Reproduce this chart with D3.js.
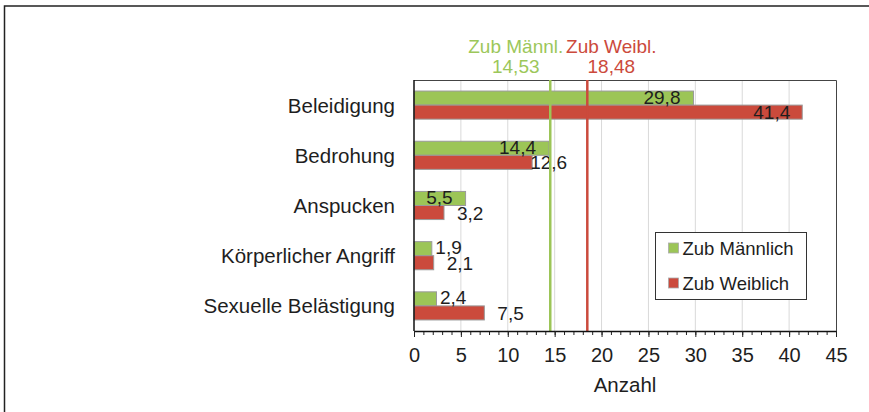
<!DOCTYPE html>
<html>
<head>
<meta charset="utf-8">
<script src="https://cdn.jsdelivr.net/npm/d3@7"></script>
<style>
  html, body { margin: 0; padding: 0; background: #fff; }
  svg { display: block; font-family: "Liberation Sans", Arial, sans-serif; }
</style>
</head>
<body>
<svg id="chart" width="869" height="412"></svg>
<script>
const categories = ["Beleidigung", "Bedrohung", "Anspucken", "Körperlicher Angriff", "Sexuelle Belästigung"];
const seriesNames = ["Zub Männlich", "Zub Weiblich"];
const maleValues = [29.8, 14.4, 5.5, 1.9, 2.4];
const femaleValues = [41.4, 12.6, 3.2, 2.1, 7.5];
const refLabels = ["Zub Männl.", "Zub Weibl."];
const refValues = [14.53, 18.48];
const xTicks = [0, 5, 10, 15, 20, 25, 30, 35, 40, 45];
const xMinorTicks = d3.range(0, 46, 1);
const axisTitle = "Anzahl";

const colors = { male: "#9cc557", female: "#cb4a3c", maleText: "#9cc75a", femaleText: "#cc4a3c", text: "#1e1e1e" };

const svg = d3.select("#chart");
const plot = { left: 414, right: 836, top: 80, bottom: 331 };

const locale = d3.formatLocale({ decimal: ",", thousands: ".", grouping: [3], currency: ["", "€"] });
const fmt1 = v => locale.format(".1f")(v);
const fmt2 = v => locale.format(".2f")(v);

const x = d3.scaleLinear().domain([0, 45]).range([plot.left, plot.right]);
const y = d3.scaleBand().domain(categories).range([plot.top, plot.bottom]).padding(0);
const bh = y.bandwidth() * 0.28;

// outer frame
svg.append("path").attr("d", `M4.5,412 V6 H869`).attr("fill", "none").attr("stroke", "#222").attr("stroke-width", 1.5);

// gridlines
svg.append("g").selectAll("line").data(xTicks.filter(t => t > 0 && t < 45)).join("line")
  .attr("x1", d => x(d)).attr("x2", d => x(d))
  .attr("y1", plot.top).attr("y2", plot.bottom)
  .attr("stroke", "#d9d9d9").attr("stroke-width", 1);

// plot border top/right
svg.append("path").attr("d", `M${plot.left},${plot.top + 0.5} H${plot.right + 0.5} V${plot.bottom}`)
  .attr("fill", "none").attr("stroke", "#444").attr("stroke-width", 1);

// bars
const rows = categories.map((c, i) => ({ c, m: maleValues[i], f: femaleValues[i] }));
const g = svg.append("g");
g.selectAll("rect.m").data(rows).join("rect").attr("class", "m")
  .attr("x", x(0)).attr("y", d => y(d.c) + y.bandwidth() / 2 - bh)
  .attr("width", d => x(d.m) - x(0)).attr("height", bh)
  .attr("fill", colors.male).attr("stroke", "#9a9a9a").attr("stroke-width", 1);
g.selectAll("rect.f").data(rows).join("rect").attr("class", "f")
  .attr("x", x(0)).attr("y", d => y(d.c) + y.bandwidth() / 2)
  .attr("width", d => x(d.f) - x(0)).attr("height", bh)
  .attr("fill", colors.female).attr("stroke", "#9a9a9a").attr("stroke-width", 1);

// data labels
g.selectAll("text.ml").data(rows).join("text").attr("class", "ml")
  .attr("x", d => d.m >= 5 ? x(d.m) - 13 : x(d.m) + 3.5)
  .attr("y", d => y(d.c) + y.bandwidth() / 2 - 1.5)
  .attr("text-anchor", d => d.m >= 5 ? "end" : "start")
  .attr("font-size", 19).attr("fill", colors.text)
  .text(d => fmt1(d.m));
g.selectAll("text.fl").data(rows).join("text").attr("class", "fl")
  .attr("x", d => d.f >= 20 ? x(d.f) - 12 : (d.f >= 10 ? x(d.f) - 2 : x(d.f) + 13))
  .attr("y", d => y(d.c) + y.bandwidth() / 2 + bh)
  .attr("text-anchor", d => d.f >= 20 ? "end" : "start")
  .attr("font-size", 19).attr("fill", colors.text)
  .text(d => fmt1(d.f));

// reference lines
const refColors = [colors.male, colors.female];
const refTextColors = [colors.maleText, colors.femaleText];
const refOffsets = [-34.5, 24];
refValues.forEach((v, i) => {
  svg.append("line").attr("x1", x(v)).attr("x2", x(v)).attr("y1", plot.top).attr("y2", plot.bottom)
    .attr("stroke", refColors[i]).attr("stroke-width", 2.5);
  const t = svg.append("text").attr("text-anchor", "middle").attr("font-size", 19).attr("fill", refTextColors[i]);
  t.append("tspan").attr("x", x(v) + refOffsets[i]).attr("y", 53).text(refLabels[i]);
  t.append("tspan").attr("x", x(v) + refOffsets[i]).attr("y", 73).text(fmt2(v));
});

// left axis line
svg.append("line").attr("x1", plot.left).attr("x2", plot.left).attr("y1", plot.top).attr("y2", plot.bottom)
  .attr("stroke", "#111").attr("stroke-width", 1.5);

// category labels
svg.append("g").selectAll("text").data(categories).join("text")
  .attr("x", plot.left - 19).attr("y", d => y(d) + y.bandwidth() / 2)
  .attr("dy", "0.37em").attr("text-anchor", "end")
  .attr("font-size", 20.5).attr("fill", colors.text).text(d => d);

// bottom axis
const minorAxis = d3.axisBottom(x).tickValues(xMinorTicks).tickSize(4).tickFormat("");
const majorAxis = d3.axisBottom(x).tickValues(xTicks).tickSize(6).tickPadding(11).tickFormat(d => d);
const ax1 = svg.append("g").attr("transform", `translate(0,${plot.bottom})`).call(minorAxis);
ax1.select(".domain").remove();
ax1.selectAll("line").attr("stroke", "#222");
const ax2 = svg.append("g").attr("transform", `translate(0,${plot.bottom})`).call(majorAxis);
ax2.select(".domain").attr("stroke", "#111").attr("stroke-width", 1.5).attr("d", `M${plot.left},0.5H${plot.right}`);
ax2.selectAll("line").attr("stroke", "#222");
ax2.selectAll("text").attr("font-size", 20).attr("fill", colors.text)
  .attr("font-family", "Liberation Sans, Arial, sans-serif");

svg.append("text").attr("x", (plot.left + plot.right) / 2).attr("y", 392)
  .attr("text-anchor", "middle").attr("font-size", 20.5).attr("fill", colors.text).text(axisTitle);

// legend
const lg = svg.append("g").attr("transform", "translate(655.5,232.5)");
lg.append("rect").attr("width", 151).attr("height", 67).attr("fill", "#fff").attr("stroke", "#333").attr("stroke-width", 1);
seriesNames.forEach((n, i) => {
  const yy = 16 + i * 35;
  lg.append("rect").attr("x", 13).attr("y", yy - 5.5).attr("width", 10).attr("height", 10)
    .attr("fill", i === 0 ? colors.male : colors.female).attr("stroke", "#aaa").attr("stroke-width", 0.8);
  lg.append("text").attr("x", 27).attr("y", yy).attr("dy", "0.36em").attr("font-size", 18.5)
    .attr("fill", colors.text).text(n);
});
</script>
</body>
</html>
